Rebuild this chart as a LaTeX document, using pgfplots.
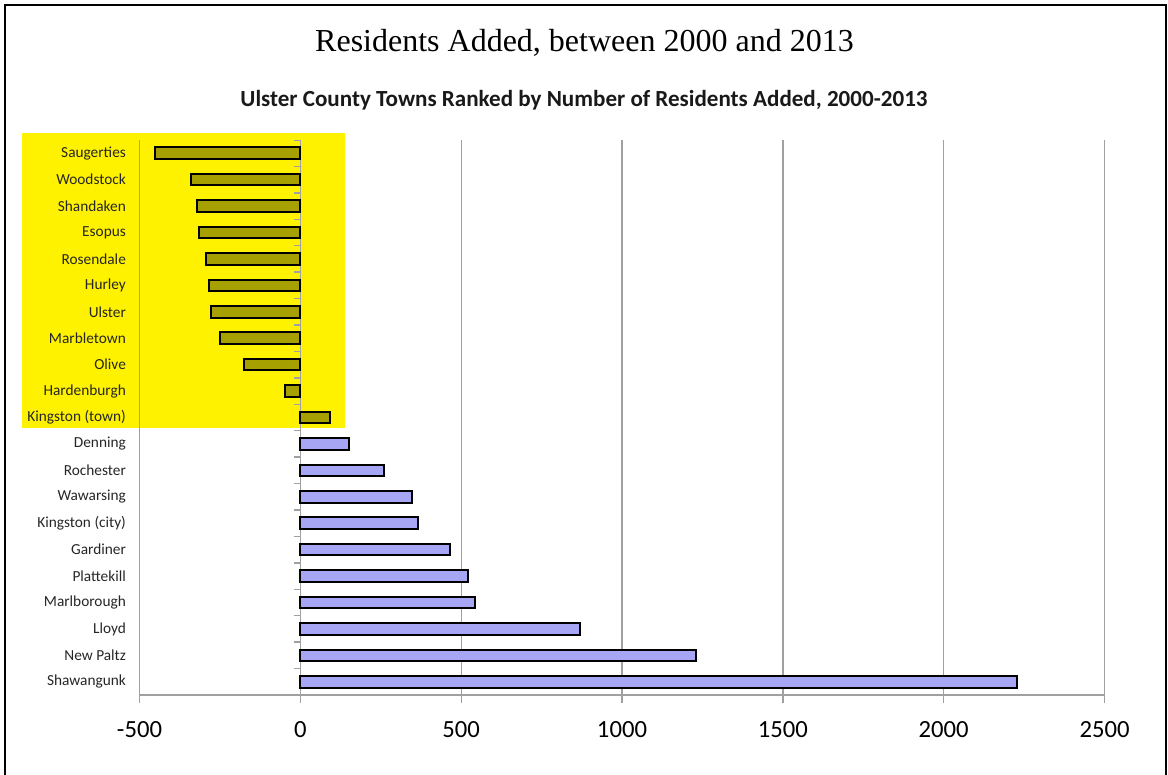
\documentclass[border=0pt]{standalone}
\usepackage{pgfplots}
\pgfplotsset{compat=1.18}
\usepackage{fontspec}
\setmainfont{Carlito}
\newfontfamily\titlefont{Liberation Serif}
\definecolor{olivebar}{RGB}{166,160,0}
\definecolor{bluebar}{RGB}{166,166,245}
\definecolor{gridgray}{RGB}{160,160,160}
\begin{document}
\begin{tikzpicture}[x=0.75pt,y=-0.75pt]
\path[use as bounding box] (0,0) rectangle (1168,775);
\draw[line width=1.5pt] (5,775) -- (5,5) -- (1166,5) -- (1166,775);
\fill[yellow] (22,133) rectangle (345,428);
\node[anchor=base, font=\titlefont\fontsize{24}{28}\selectfont] at (584.5,51) {Residents Added, between 2000 and 2013};
\node[anchor=base, font=\bfseries\fontsize{17.3}{20}\selectfont, text=black!90] at (584,106) {Ulster County Towns Ranked by Number of Residents Added, 2000-2013};
\begin{axis}[
  at={(104.625pt,-521.25pt)}, anchor=south west,
  scale only axis, width=723.75pt, height=416.25pt,
  xmin=-500, xmax=2500, ymin=-0.5, ymax=20.5, y dir=reverse,
  xbar, bar width=0.44, bar shift=0pt,
  xtick={-500,0,...,2500},
  xticklabels={-500,0,500,1000,1500,2000,2500},
  ytick={0,...,20},
  yticklabels={Saugerties,Woodstock,Shandaken,Esopus,Rosendale,Hurley,Ulster,Marbletown,Olive,Hardenburgh,Kingston (town),Denning,Rochester,Wawarsing,Kingston (city),Gardiner,Plattekill,Marlborough,Lloyd,New Paltz,Shawangunk},
  xmajorgrids, grid style={draw=gridgray, line width=1pt},
  axis x line*=bottom, axis y line*=left,
  axis line style={draw=gridgray, line width=1pt},
  tick align=outside, major tick length=6pt,
  xtick style={draw=gridgray, line width=1pt},
  ytick style={draw=none},
  xticklabel style={font=\fontsize{18.5}{20}\selectfont, inner sep=0pt, yshift=-13.5pt},
  yticklabel style={font=\fontsize{11.5}{13}\selectfont, inner sep=0pt, xshift=-4pt, text=black!85},
]
\draw[gridgray, line width=1pt] (axis cs:0,-0.5) -- (axis cs:0,20.5);
\pgfplotsinvokeforeach{-0.5,0.5,...,20.5}{\draw[gridgray, line width=1pt] (axis cs:0,#1) -- ++(-4.5pt,0pt);}
\addplot[fill=olivebar, draw=black, line width=1.5pt] coordinates {
(-452,0) (-339,1) (-321,2) (-315,3) (-293,4) (-283,5) (-277,6) (-249,7) (-174,8) (-47,9) (92,10)};
\addplot[fill=bluebar, draw=black, line width=1.5pt] coordinates {
(150,11) (259,12) (346,13) (367,14) (466,15) (522,16) (542,17) (868,18) (1230,19) (2228,20)};
\end{axis}
\end{tikzpicture}
\end{document}
